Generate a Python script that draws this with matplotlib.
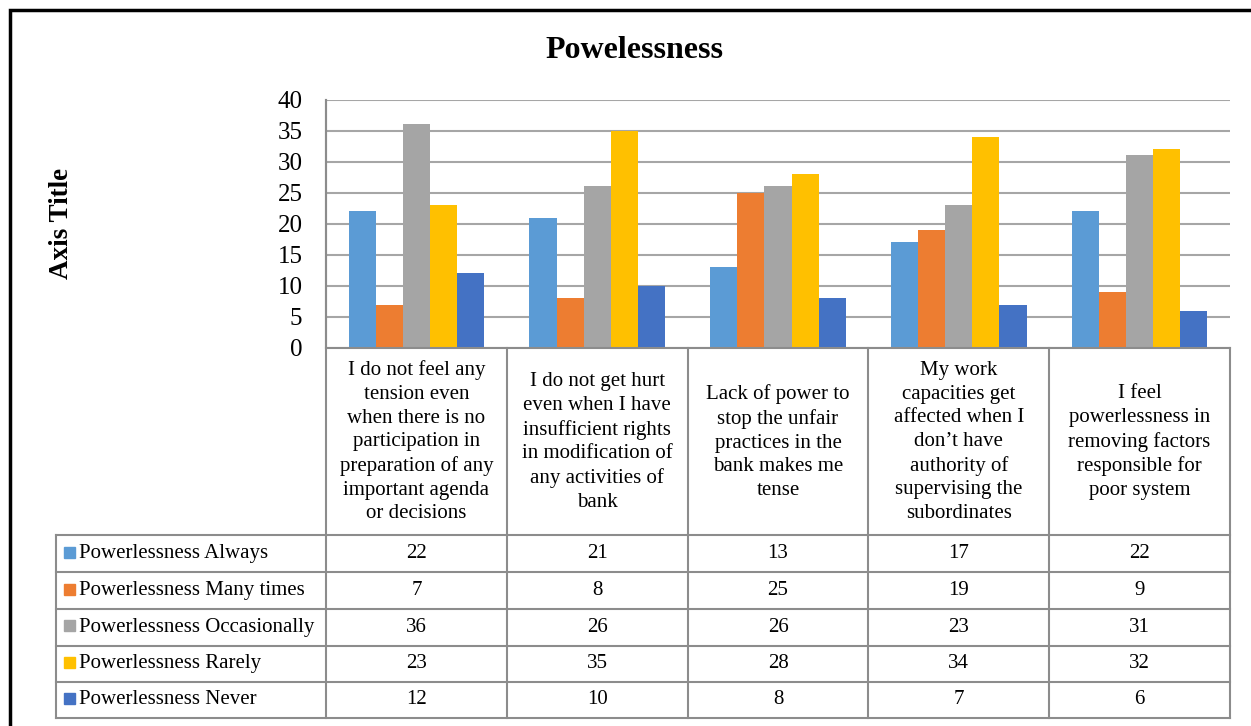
import numpy as np
import matplotlib
matplotlib.use("Agg")
import matplotlib.pyplot as plt
from matplotlib.transforms import blended_transform_factory
from matplotlib.patches import Rectangle
from matplotlib.lines import Line2D

# === DATA ===
categories = [
    "I do not feel any\ntension even\nwhen there is no\nparticipation in\npreparation of any\nimportant agenda\nor decisions",
    "I do not get hurt\neven when I have\ninsufficient rights\nin modification of\nany activities of\nbank",
    "Lack of power to\nstop the unfair\npractices in the\nbank makes me\ntense",
    "My work\ncapacities get\naffected when I\ndon\u2019t have\nauthority of\nsupervising the\nsubordinates",
    "I feel\npowerlessness in\nremoving factors\nresponsible for\npoor system",
]
series_names = [
    "Powerlessness Always",
    "Powerlessness Many times",
    "Powerlessness Occasionally",
    "Powerlessness Rarely",
    "Powerlessness Never",
]
always = [22, 21, 13, 17, 22]
many_times = [7, 8, 25, 19, 9]
occasionally = [36, 26, 26, 23, 31]
rarely = [23, 35, 28, 34, 32]
never = [12, 10, 8, 7, 6]
colors = ["#5B9BD5", "#ED7D31", "#A5A5A5", "#FFC000", "#4472C4"]

series = [always, many_times, occasionally, rarely, never]

# === FIGURE ===
W, H = 1251, 726
plt.rcParams["font.family"] = ["Liberation Serif", "DejaVu Serif"]
fig = plt.figure(figsize=(W / 100, H / 100), dpi=100)


def fy(py):
    return 1 - py / H


def fx(px):
    return px / W


# plot area in pixels
x0, x1, y_top, y_bot = 326, 1230, 99.5, 348
ax = fig.add_axes([fx(x0), fy(y_bot), fx(x1) - fx(x0), fy(y_top) - fy(y_bot)])

n = len(categories)
x = np.arange(n)
bw = 0.15
for i, (vals, col) in enumerate(zip(series, colors)):
    ax.bar(x + (i - 2) * bw, vals, width=bw, color=col, zorder=3)

ax.set_xlim(-0.5, n - 0.5)
ax.set_ylim(0, 40)
ax.set_yticks(range(0, 41, 5))
ax.tick_params(axis="y", length=0, labelsize=18, pad=17)
ax.set_xticks([])
ax.grid(axis="y", color="#A6A6A6", linewidth=1.5, zorder=0)
for s in ["top", "right", "bottom"]:
    ax.spines[s].set_visible(False)
ax.spines["left"].set_color("#8C8C8C")
ax.spines["left"].set_linewidth(1.5)

fig.text(fx(634), fy(51), "Powelessness", ha="center", va="center",
         fontsize=23, fontweight="bold")
fig.text(fx(61), fy(223), "Axis Title", ha="center", va="center",
         fontsize=19.5, fontweight="bold", rotation=90)

# outer frame
fig.add_artist(Rectangle((fx(10), fy(760)), fx(1270) - fx(10), fy(10) - fy(760),
                         transform=fig.transFigure, fill=False,
                         edgecolor="black", linewidth=2.5))

# === DATA TABLE ===
tr = blended_transform_factory(ax.transData, fig.transFigure)
line_kw = dict(color="#8C8C8C", linewidth=1.5)
row_edges = [535, 572, 609, 645.5, 682, 718]
legend_left = 56

# vertical category boundaries
for b in np.arange(n + 1) - 0.5:
    top = y_bot if b > -0.5 else y_top
    fig.add_artist(Line2D([b, b], [fy(top), fy(718)], transform=tr, **line_kw))
# axis line under bars
fig.add_artist(Line2D([-0.5, n - 0.5], [fy(y_bot), fy(y_bot)], transform=tr, **line_kw))
# horizontal row lines
x_left_data = ax.transData.inverted().transform((fx(legend_left) * fig.bbox.width, 0))[0]
for ry in row_edges:
    fig.add_artist(Line2D([x_left_data, n - 0.5], [fy(ry), fy(ry)], transform=tr, **line_kw))
fig.add_artist(Line2D([fx(legend_left), fx(legend_left)], [fy(row_edges[0]), fy(row_edges[-1])],
                      transform=fig.transFigure, **line_kw))

# category header texts
for i, cat in enumerate(categories):
    fig.text(i, fy(442), cat, transform=tr, ha="center", va="center",
             fontsize=15, linespacing=1.33)

# rows: legend key + values
for r, (name, vals, col) in enumerate(zip(series_names, series, colors)):
    cy = (row_edges[r] + row_edges[r + 1]) / 2
    fig.add_artist(Rectangle((fx(64), fy(cy + 4)), fx(11), fy(cy - 7) - fy(cy + 4),
                             transform=fig.transFigure, color=col))
    fig.text(fx(79), fy(cy), name, ha="left", va="center", fontsize=15)
    for i, v in enumerate(vals):
        fig.text(i, fy(cy), str(v), transform=tr, ha="center", va="center", fontsize=15)

fig.savefig("out.png", dpi=100)
